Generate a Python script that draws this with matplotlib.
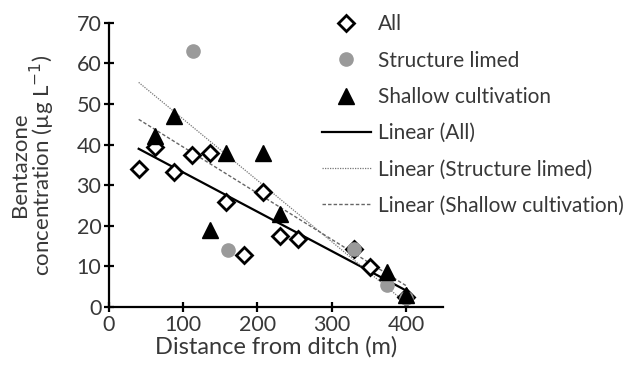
import numpy as np
import matplotlib
matplotlib.use("Agg")
import matplotlib.pyplot as plt

plt.rcParams['font.family'] = ['Lato', 'DejaVu Sans']

# Data
all_x = [40, 62, 87, 112, 136, 157, 182, 207, 231, 254, 330, 352, 400]
all_y = [34.0, 39.5, 33.3, 37.4, 37.9, 25.9, 12.7, 28.2, 17.6, 16.7, 14.2, 9.9, 2.5]

lim_x = [113, 160, 330, 375, 400]
lim_y = [63.0, 14.0, 14.2, 5.5, 2.2]

sh_x = [62, 87, 136, 157, 207, 231, 374, 400]
sh_y = [42.0, 47.0, 19.0, 37.8, 37.8, 22.8, 8.6, 3.0]

xticks = [0, 100, 200, 300, 400]
yticks = [0, 10, 20, 30, 40, 50, 60, 70]

fig = plt.figure(figsize=(6.27, 3.70), dpi=100)
ax = fig.add_axes([109 / 627, 1 - 307 / 370, 334 / 627, (307 - 22.7) / 370])

fit_x = np.array([40, 400])

ax.plot(all_x, all_y, linestyle='none', marker='D', markersize=8,
        markerfacecolor='white', markeredgecolor='black', markeredgewidth=2,
        label='All', zorder=4)
ax.plot(lim_x, lim_y, linestyle='none', marker='o', markersize=9.5,
        markerfacecolor='#9a9a9a', markeredgecolor='#9a9a9a',
        label='Structure limed', zorder=5)
ax.plot(sh_x, sh_y, linestyle='none', marker='^', markersize=12,
        color='black', label='Shallow cultivation', zorder=6)

p = np.polyfit(all_x, all_y, 1)
ax.plot(fit_x, np.polyval(p, fit_x), color='black', lw=1.6,
        label='Linear (All)', zorder=3)
p = np.polyfit(lim_x, lim_y, 1)
ax.plot(fit_x, np.polyval(p, fit_x), color='#777777', lw=0.9,
        linestyle=(0, (1, 1)), label='Linear (Structure limed)', zorder=3)
p = np.polyfit(sh_x, sh_y, 1)
ax.plot(fit_x, np.polyval(p, fit_x), color='#666666', lw=1.0,
        linestyle=(0, (2.5, 1.5)), label='Linear (Shallow cultivation)', zorder=3)

ax.set_xlim(0, 450)
ax.set_ylim(0, 70)
ax.set_xticks(xticks)
ax.set_yticks(yticks)
for s in ['top', 'right']:
    ax.spines[s].set_visible(False)
for s in ['left', 'bottom']:
    ax.spines[s].set_linewidth(1.6)
    ax.spines[s].set_color('black')
ax.tick_params(axis='both', direction='inout', length=7, width=1.6,
               labelsize=15.5, colors='black', labelcolor='#383838', pad=2)

ax.set_xlabel('Distance from ditch (m)', fontsize=17, color='#383838', labelpad=1)
ax.set_ylabel('Bentazone\nconcentration (µg L$^{-1}$)', fontsize=16,
              color='#383838', linespacing=0.9)
ax.yaxis.set_label_coords(-0.155, 0.5)

leg = fig.legend(loc='upper left', bbox_to_anchor=(322 / 627, 1 - 14.5 / 370),
                 frameon=False, fontsize=15, labelspacing=0.78,
                 handlelength=2.35, handletextpad=0.35, borderaxespad=0,
                 borderpad=0)
for t in leg.get_texts():
    t.set_color('#383838')

fig.savefig('out.png', dpi=100)
